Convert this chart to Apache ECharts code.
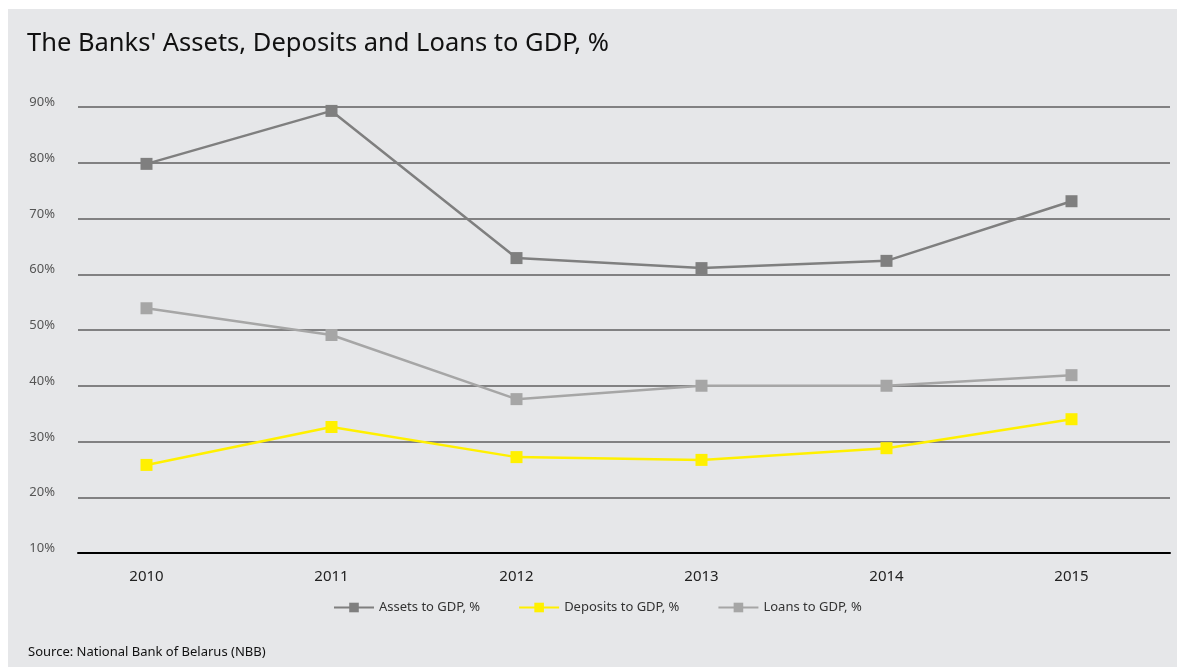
<!DOCTYPE html>
<html><head><meta charset="utf-8">
<script src="https://cdn.jsdelivr.net/npm/echarts@6/dist/echarts.min.js"></script>
<style>html,body{margin:0;padding:0;background:#fff}#c{width:1177px;height:667px}</style>
</head><body><div id="c"></div>
<script>
const categories = ['2010','2011','2012','2013','2014','2015'];
const assets = [79.8, 89.3, 62.9, 61.1, 62.4, 73.1];
const deposits = [25.8, 32.6, 27.2, 26.7, 28.8, 34.0];
const loans = [53.9, 49.1, 37.6, 40.0, 40.0, 41.9];
const seriesNames = ['Assets to GDP, %', 'Deposits to GDP, %', 'Loans to GDP, %'];
const yMin = 10, yMax = 90, yStep = 10;

const font = 'Noto Sans';
const chart = echarts.init(document.getElementById('c'));
const gridTop = 107, gridBottom = 114;
function mk(name, data, color) {
  return {
    name, type: 'line', data, xAxisIndex: 1, yAxisIndex: 1,
    symbol: 'rect', symbolSize: 12, lineStyle: { color, width: 2.5 },
    itemStyle: { color }, z: 5
  };
}
chart.setOption({
  backgroundColor: '#ffffff',
  animation: false,
  graphic: [{ type: 'rect', z: -10, silent: true, shape: { x: 8, y: 9, width: 1169, height: 658 }, style: { fill: '#e6e7e9' } }],
  title: [
    { text: "The Banks' Assets, Deposits and Loans to GDP, %", left: 22, top: 26,
      textStyle: { fontFamily: font, fontSize: 25.5, fontWeight: 'normal', color: '#111' } },
    { text: 'Source: National Bank of Belarus (NBB)', left: 23, top: 641,
      textStyle: { fontFamily: font, fontSize: 13, fontWeight: 'normal', color: '#111' } }
  ],
  legend: {
    data: seriesNames, top: 596, left: 328, itemWidth: 40, itemHeight: 12, itemGap: 38,
    textStyle: { fontFamily: font, fontSize: 13, color: '#333' }
  },
  grid: [
    { left: 78, right: 7, top: gridTop, bottom: gridBottom },
    { left: 54, right: 13, top: gridTop, bottom: gridBottom }
  ],
  xAxis: [
    { type: 'category', gridIndex: 0, data: categories, axisLabel: { show: false }, axisTick: { show: false },
      axisLine: { lineStyle: { color: '#000', width: 2 } }, z: 3 },
    { type: 'category', gridIndex: 1, data: categories, axisLine: { show: false }, axisTick: { show: false },
      axisLabel: { fontFamily: font, fontSize: 15, color: '#222', margin: 16 } }
  ],
  yAxis: [
    { type: 'value', gridIndex: 0, min: yMin, max: yMax, interval: yStep,
      axisLine: { show: false }, axisTick: { show: false },
      splitLine: { lineStyle: { color: '#5f5f5f', width: 1.5 } },
      axisLabel: { formatter: '{value}%', fontFamily: font, fontSize: 13, color: '#555', margin: 23,
        verticalAlign: 'bottom', lineHeight: 9 } },
    { type: 'value', gridIndex: 1, min: yMin, max: yMax, interval: yStep, show: false, splitLine: { show: false } }
  ],
  series: [
    mk(seriesNames[0], assets, '#7f7f7f'),
    mk(seriesNames[1], deposits, '#fff000'),
    mk(seriesNames[2], loans, '#a6a6a6')
  ]
});
</script></body></html>
